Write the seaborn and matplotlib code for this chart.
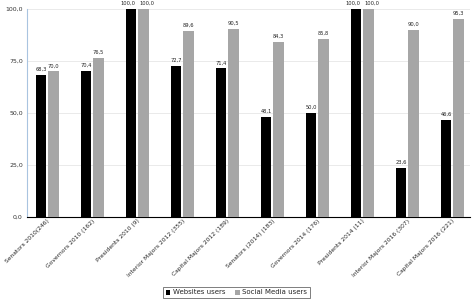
import pandas as pd
import matplotlib
matplotlib.use('Agg')
import matplotlib.pyplot as plt
import seaborn as sns

# Data
categories = ['Senators 2010(246)', 'Governors 2010 (162)', 'Presidents 2010 (9)',
              'Interior Majors 2012 (355)', 'Capital Majors 2012 (189)',
              'Senators (2014) (183)', 'Governors 2014 (176)', 'Presidents 2014 (11)',
              'Interior Majors 2016 (307)', 'Capital Majors 2016 (221)']
websites_users = [68.3, 70.4, 100.0, 72.7, 71.4, 48.1, 50.0, 100.0, 23.6, 46.6]
social_media_users = [70.0, 76.5, 100.0, 89.6, 90.5, 84.3, 85.8, 100.0, 90.0, 95.3]
series_names = ['Websites users', 'Social Media users']
y_ticks = [0, 25, 50, 75, 100]

df = pd.DataFrame({
    'Category': categories * 2,
    'Value': websites_users + social_media_users,
    'Series': [series_names[0]] * len(categories) + [series_names[1]] * len(categories),
})

sns.set_style('white')
plt.rcParams['font.family'] = ['DejaVu Sans']

fig = plt.figure(figsize=(4.73, 3.0), dpi=100)
ax = fig.add_axes([0.057, 0.277, 0.937, 0.693])

sns.barplot(data=df, x='Category', y='Value', hue='Series',
            palette=['#000000', '#A6A6A6'], width=0.55, gap=0.12,
            edgecolor='none', ax=ax, legend=True, zorder=3)

# value labels with comma decimals; nudge the 100,0 pairs apart so they don't collide
for k, container in enumerate(ax.containers):
    labels = ['{:.1f}'.format(v).replace('.', ',') for v in container.datavalues]
    texts = ax.bar_label(container, labels=labels, fontsize=3.7, padding=2, color='#222222')
    for t, v in zip(texts, container.datavalues):
        if v >= 100:
            t.xyann = (-2.2 if k == 0 else 2.2, 2)

ax.set_ylim(0, 100)
ax.set_yticks(y_ticks)
ax.set_yticklabels(['{:.1f}'.format(t).replace('.', ',') for t in y_ticks], fontsize=4.5, color='#333333')
ax.set_xlabel('')
ax.set_ylabel('')
ax.tick_params(axis='x', labelsize=4.3, length=0, pad=1)
ax.tick_params(axis='y', length=0, pad=3)
plt.setp(ax.get_xticklabels(), rotation=45, ha='right', rotation_mode='anchor')
ax.grid(axis='y', color='#E6E6E6', linewidth=0.6, zorder=0)
ax.set_xlim(-0.45, len(categories) - 0.6)

for side in ['top', 'right']:
    ax.spines[side].set_visible(False)
ax.spines['left'].set_color('#A9C4E0')
ax.spines['left'].set_linewidth(0.8)
ax.spines['bottom'].set_color('#000000')
ax.spines['bottom'].set_linewidth(0.8)

ax.legend_.remove()
handles, labels = ax.get_legend_handles_labels()
leg = fig.legend(handles, labels, loc='center', bbox_to_anchor=(0.5, 0.025), ncol=2,
                 fontsize=5, frameon=True, fancybox=False, edgecolor='#444444',
                 handlelength=0.7, handleheight=0.7, handletextpad=0.3, columnspacing=1.5,
                 borderpad=0.4)
leg.get_frame().set_linewidth(0.6)

fig.savefig('out.png', dpi=100)
